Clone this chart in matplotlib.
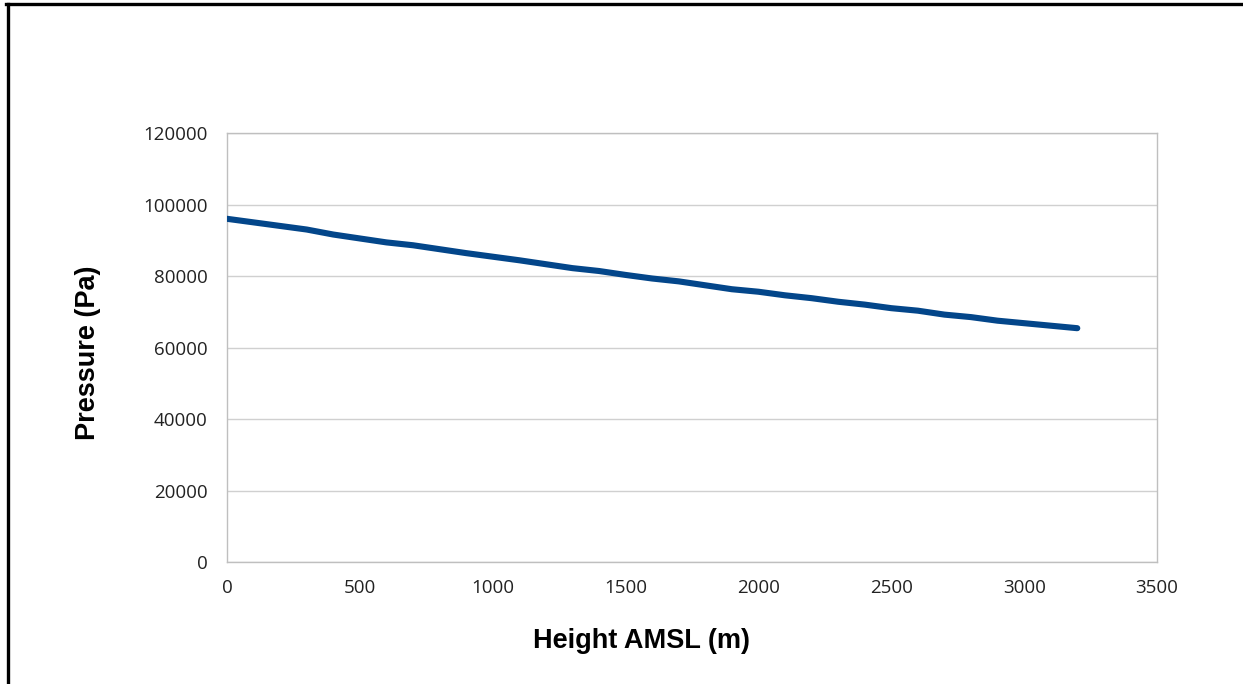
import matplotlib
matplotlib.use("Agg")
import matplotlib.pyplot as plt
from matplotlib.lines import Line2D

# Height above mean sea level (m) and measured pressure (Pa)
height_m = [0, 100, 200, 300, 400, 500, 600, 700, 800, 900, 1000,
            1100, 1200, 1300, 1400, 1500, 1600, 1700, 1800, 1900, 2000,
            2100, 2200, 2300, 2400, 2500, 2600, 2700, 2800, 2900, 3000,
            3100, 3200]
pressure_pa = [96000, 95000, 94000, 93000, 91600, 90500, 89400, 88600, 87500,
               86400, 85400, 84400, 83300, 82200, 81400, 80300, 79300, 78500,
               77400, 76300, 75600, 74600, 73800, 72800, 72000, 71000, 70300,
               69200, 68500, 67500, 66800, 66100, 65400]

x_ticks = [0, 500, 1000, 1500, 2000, 2500, 3000, 3500]
y_ticks = [0, 20000, 40000, 60000, 80000, 100000, 120000]

W, H = 1243, 684
fig = plt.figure(figsize=(W / 100, H / 100), dpi=100)
fig.patch.set_facecolor("white")

ax = fig.add_axes([227 / W, 1 - 562 / H, (1157 - 227) / W, (562 - 133) / H])

ax.plot(height_m, pressure_pa, color="#03468A", lw=4.4,
        solid_capstyle="round", solid_joinstyle="round", zorder=3)

ax.set_xlim(0, 3500)
ax.set_ylim(0, 120000)
ax.set_xticks(x_ticks)
ax.set_yticks(y_ticks)
ax.set_xticklabels([str(v) for v in x_ticks])
ax.set_yticklabels([str(v) for v in y_ticks])

ax.grid(axis="y", color="#D0D0D0", lw=1.0)
ax.set_axisbelow(True)
for s in ax.spines.values():
    s.set_color("#BFBFBF")
    s.set_linewidth(1.0)

ax.tick_params(axis="both", length=0, labelsize=13.5, labelcolor="#222222",
               labelfontfamily="Open Sans")
ax.tick_params(axis="y", pad=14)
ax.tick_params(axis="x", pad=12)

ax.set_xlabel("Height AMSL (m)", fontsize=19.5, fontweight="bold",
              family="Liberation Sans", labelpad=23)
ax.set_ylabel("Pressure (Pa)", fontsize=19.5, fontweight="bold",
              family="Liberation Sans", labelpad=30)
ax.xaxis.set_label_coords(0.446, -0.185)
ax.xaxis.label.set_verticalalignment("center")
ax.yaxis.label.set_y(0.487)

# Outer chart frame (left and top edges)
fig.add_artist(Line2D([7.5 / W, 7.5 / W], [0, 1 - 3.5 / H], color="black",
                      lw=2.4, transform=fig.transFigure))
fig.add_artist(Line2D([6 / W, 1], [1 - 3.5 / H, 1 - 3.5 / H], color="black",
                      lw=2.4, transform=fig.transFigure))

fig.savefig("out.png", dpi=100)
